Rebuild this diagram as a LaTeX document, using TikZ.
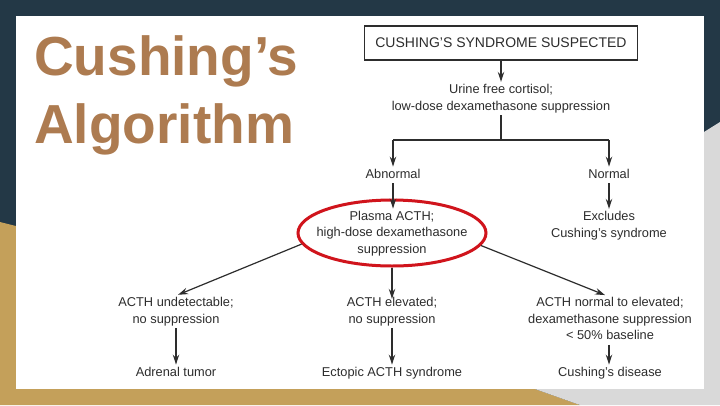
\documentclass[tikz,border=0pt]{standalone}
\usepackage{fontspec}
\setmainfont{Liberation Sans}
\usetikzlibrary{arrows.meta,shapes.geometric}
\definecolor{navy}{RGB}{35,56,70}
\definecolor{gold}{RGB}{196,160,90}
\definecolor{lgrey}{RGB}{217,217,217}
\definecolor{titlec}{RGB}{173,123,80}
\definecolor{ink}{RGB}{45,45,45}
\definecolor{ringred}{RGB}{208,20,28}
\tikzset{
  txt/.style={align=center, inner sep=0pt, text=ink, font=\fontsize{12.8}{16.5}\selectfont},
  conn/.style={draw=ink, line width=1.2pt},
  arr/.style={conn, -{Stealth[length=10pt,width=6.5pt]}},
  boxed/.style={draw=ink, line width=1.3pt, minimum width=273pt, minimum height=34pt, inner sep=0pt, text=ink, font=\fontsize{14}{16}\selectfont},
  ringst/.style={ellipse, draw=ringred, line width=3pt, minimum width=188pt, minimum height=66pt, inner sep=0pt},
  titlest/.style={anchor=base west, inner sep=0pt, text=titlec, font=\fontsize{55}{60}\selectfont\bfseries}
}
\begin{document}
\begin{tikzpicture}[x=1pt,y=-1pt]
\useasboundingbox (0,0) rectangle (720,405);
% background
\fill[navy] (0,0) rectangle (720,405);
\fill[gold] (0,222) -- (16,226) -- (16,389) -- (535,389) -- (580,405) -- (0,405) -- cycle;
\fill[lgrey] (704,132) -- (720,122) -- (720,405) -- (580,405) -- (535,389) -- (704,389) -- cycle;
\fill[white] (16,16) rectangle (704,389);
% title
\node[titlest] (t1) at (34,75) {Cushing’s};
\node[titlest] (t2) at (34,143) {Algorithm};
% flowchart
\node[boxed] (top) at (501,43) {CUSHING’S SYNDROME SUSPECTED};
\node[txt] (urine) at (501,98.5) {\strut Urine free cortisol;\\\strut low-dose dexamethasone suppression};
\node[txt] (abn) at (393,175) {\strut Abnormal};
\node[txt] (norm) at (609,175) {\strut Normal};
\node[ringst] (ring) at (392,233) {};
\node[txt] (plasma) at (392,233.5) {\strut Plasma ACTH;\\\strut high-dose dexamethasone\\\strut suppression};
\node[txt] (excl) at (609,225.5) {\strut Excludes\\\strut Cushing’s syndrome};
\node[txt] (r3a) at (176,311.5) {\strut ACTH undetectable;\\\strut no suppression};
\node[txt] (r3b) at (392,311.5) {\strut ACTH elevated;\\\strut no suppression};
\node[txt] (r3c) at (610,320) {\strut ACTH normal to elevated;\\\strut dexamethasone suppression\\\strut < 50\% baseline};
\node[txt] (r4a) at (176,373) {\strut Adrenal tumor};
\node[txt] (r4b) at (392,373) {\strut Ectopic ACTH syndrome};
\node[txt] (r4c) at (610,373) {\strut Cushing’s disease};
\coordinate (sp) at (501,140);
\coordinate (spl) at (393,140);
\coordinate (spr) at (609,140);
% connectors
\draw[arr] (top.south) -- (urine.north);
\draw[conn] (urine.south) -- (sp);
\draw[conn] (spl) -- (spr);
\draw[arr] (spl) -- (abn.north);
\draw[arr] (spr) -- (norm.north);
\draw[arr] (abn.south) -- (abn.south |- plasma.north);
\draw[arr] (norm.south) -- (excl.north);
\draw[arr] (ring.187) -- ([xshift=2pt]r3a.north);
\draw[arr] (ring.south) -- ([yshift=-4pt]r3b.north);
\draw[arr] (ring.352) -- ([xshift=-5pt]r3c.north);
\draw[arr] (r3a.south) -- (r4a.north);
\draw[arr] (r3b.south) -- (r4b.north);
\draw[arr] ([xshift=-1pt]r3c.south) -- ([xshift=-1pt]r4c.north);
\end{tikzpicture}
\end{document}
